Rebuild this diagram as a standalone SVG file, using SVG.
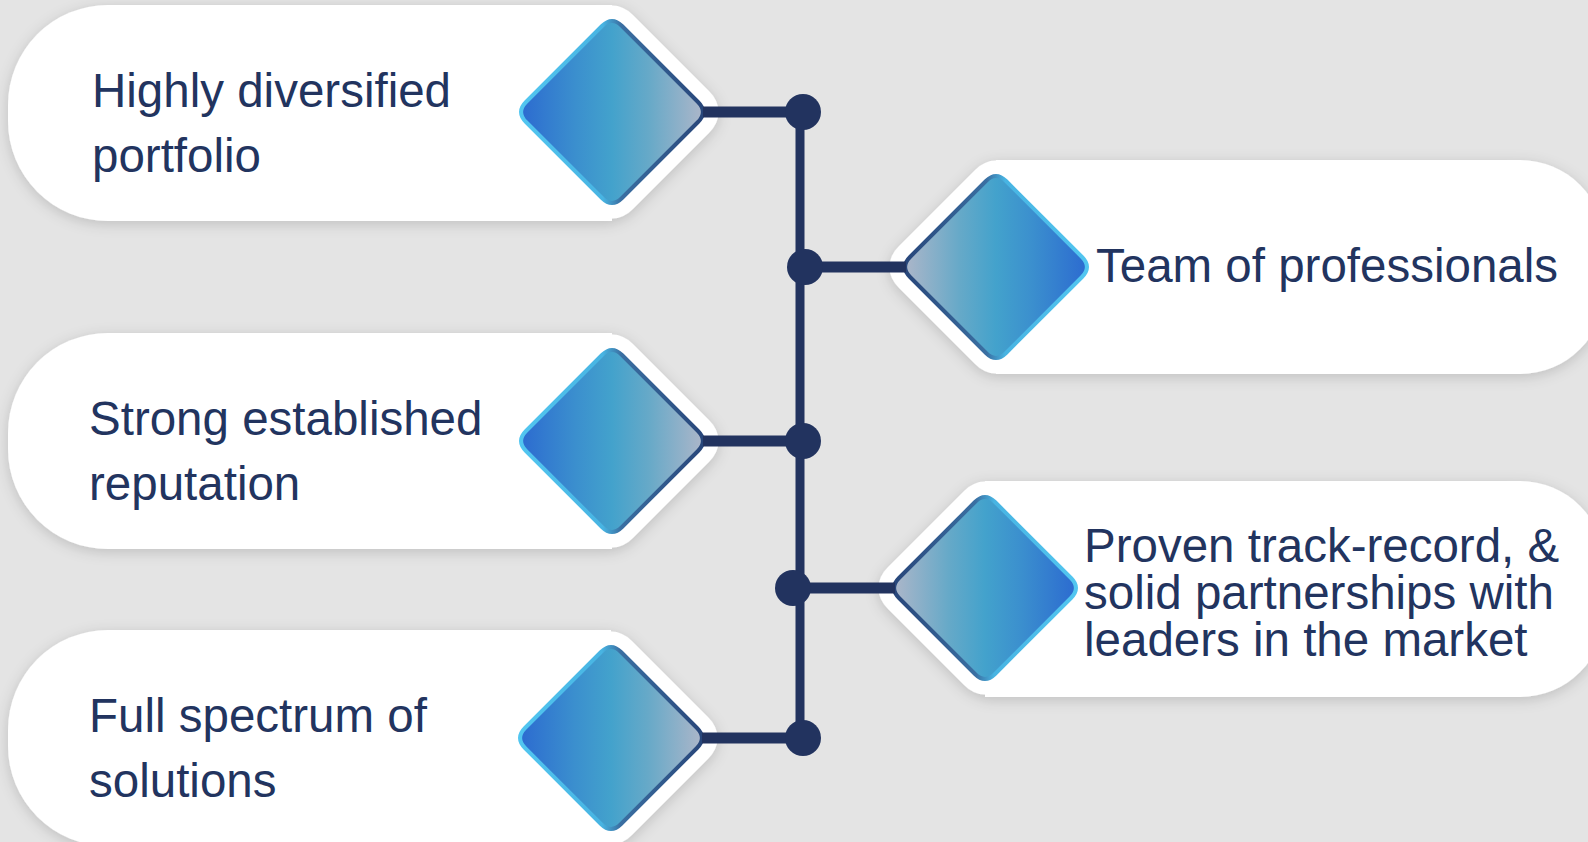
<svg xmlns="http://www.w3.org/2000/svg" width="1588" height="842" viewBox="0 0 1588 842">
<style>
  .lbl{font-family:"Liberation Sans",Arial,sans-serif;font-size:47.5px;fill:#22345f}
  .lbl2{font-family:"Liberation Sans",Arial,sans-serif;font-size:47.5px;fill:#22345f}
  .card{fill:#ffffff}
  .halo{fill:#ffffff;stroke:#ffffff;stroke-width:31;stroke-linejoin:round}
  .conn{stroke:#22335f;fill:none}
  .dot{fill:#22335f}
</style>
<defs>
  <filter id="sh" x="-10%" y="-20%" width="120%" height="140%">
    <feDropShadow dx="0" dy="3" stdDeviation="7" flood-color="#000" flood-opacity="0.16"/>
  </filter>
  <linearGradient id="fillL" x1="0" y1="0" x2="1" y2="0">
    <stop offset="0" stop-color="#2c6bd0"/>
    <stop offset="0.3" stop-color="#3b8fce"/>
    <stop offset="0.5" stop-color="#43a2cc"/>
    <stop offset="0.7" stop-color="#66a9c8"/>
    <stop offset="1" stop-color="#acb6c9"/>
  </linearGradient>
  <linearGradient id="fillR" x1="1" y1="0" x2="0" y2="0">
    <stop offset="0" stop-color="#2c6bd0"/>
    <stop offset="0.3" stop-color="#3b8fce"/>
    <stop offset="0.5" stop-color="#43a2cc"/>
    <stop offset="0.7" stop-color="#66a9c8"/>
    <stop offset="1" stop-color="#acb6c9"/>
  </linearGradient>
  <linearGradient id="strL" x1="0" y1="0" x2="1" y2="0">
    <stop offset="0" stop-color="#52c6f0"/>
    <stop offset="0.45" stop-color="#48b4e2"/>
    <stop offset="0.55" stop-color="#3a6fa2"/>
    <stop offset="1" stop-color="#28467a"/>
  </linearGradient>
  <linearGradient id="strR" x1="1" y1="0" x2="0" y2="0">
    <stop offset="0" stop-color="#52c6f0"/>
    <stop offset="0.45" stop-color="#48b4e2"/>
    <stop offset="0.55" stop-color="#3a6fa2"/>
    <stop offset="1" stop-color="#28467a"/>
  </linearGradient>
  <path id="dia" d="M -86,-10 L -10,-86 Q 0,-96 10,-86 L 86,-10 Q 96,0 86,10 L 10,86 Q 0,96 -10,86 L -86,10 Q -96,0 -86,-10 Z"/>
</defs>
<rect x="0" y="0" width="1588" height="842" fill="#e4e4e4"/>

<g id="node-highly-diversified">
  <g filter="url(#sh)">
    <path class="card" d="M 108,5 H 612 V 221 H 108 A 100 100 0 0 1 8,121 V 105 A 100 100 0 0 1 108,5 Z"/>
    <use href="#dia" class="halo" transform="translate(612,112)"/>
  </g>
  <use href="#dia" transform="translate(612,112)" fill="url(#fillL)" stroke="url(#strL)" stroke-width="4"/>
  <text class="lbl" x="92" y="107">Highly diversified</text>
  <text class="lbl" x="92" y="172">portfolio</text>
</g>

<g id="node-team">
  <g filter="url(#sh)">
    <path class="card" d="M 996,160 H 1520 A 85 85 0 0 1 1605,245 V 289 A 85 85 0 0 1 1520,374 H 996 Z"/>
    <use href="#dia" class="halo" transform="translate(996,267)"/>
  </g>
  <use href="#dia" transform="translate(996,267)" fill="url(#fillR)" stroke="url(#strR)" stroke-width="4"/>
  <text class="lbl" x="1096" y="282">Team of professionals</text>
</g>

<g id="node-strong-reputation">
  <g filter="url(#sh)">
    <path class="card" d="M 108,333 H 612 V 549 H 108 A 100 100 0 0 1 8,449 V 433 A 100 100 0 0 1 108,333 Z"/>
    <use href="#dia" class="halo" transform="translate(612,441)"/>
  </g>
  <use href="#dia" transform="translate(612,441)" fill="url(#fillL)" stroke="url(#strL)" stroke-width="4"/>
  <text class="lbl" x="89" y="435">Strong established</text>
  <text class="lbl" x="89" y="500">reputation</text>
</g>

<g id="node-proven-track-record">
  <g filter="url(#sh)">
    <path class="card" d="M 985,481 H 1520 A 85 85 0 0 1 1605,566 V 612 A 85 85 0 0 1 1520,697 H 985 Z"/>
    <use href="#dia" class="halo" transform="translate(985,588)"/>
  </g>
  <use href="#dia" transform="translate(985,588)" fill="url(#fillR)" stroke="url(#strR)" stroke-width="4"/>
  <text class="lbl2" x="1084" y="562">Proven track-record, &amp;</text>
  <text class="lbl2" x="1084" y="609">solid partnerships with</text>
  <text class="lbl2" x="1084" y="656">leaders in the market</text>
</g>

<g id="node-full-spectrum">
  <g filter="url(#sh)">
    <path class="card" d="M 108,630 H 611 V 846 H 108 A 100 100 0 0 1 8,746 V 730 A 100 100 0 0 1 108,630 Z"/>
    <use href="#dia" class="halo" transform="translate(611,738)"/>
  </g>
  <use href="#dia" transform="translate(611,738)" fill="url(#fillL)" stroke="url(#strL)" stroke-width="4"/>
  <text class="lbl" x="89" y="732">Full spectrum of</text>
  <text class="lbl" x="89" y="797">solutions</text>
</g>

<g id="connectors">
  <line class="conn" x1="800" y1="112" x2="800" y2="738" stroke-width="9"/>
  <line class="conn" x1="703" y1="112" x2="803" y2="112" stroke-width="11"/>
  <line class="conn" x1="805" y1="267" x2="906" y2="267" stroke-width="11"/>
  <line class="conn" x1="703" y1="441" x2="803" y2="441" stroke-width="11"/>
  <line class="conn" x1="793" y1="588" x2="895" y2="588" stroke-width="11"/>
  <line class="conn" x1="702" y1="738" x2="803" y2="738" stroke-width="11"/>
  <circle class="dot" cx="803" cy="112" r="18"/>
  <circle class="dot" cx="805" cy="267" r="18"/>
  <circle class="dot" cx="803" cy="441" r="18"/>
  <circle class="dot" cx="793" cy="588" r="18"/>
  <circle class="dot" cx="803" cy="738" r="18"/>
</g>
</svg>
